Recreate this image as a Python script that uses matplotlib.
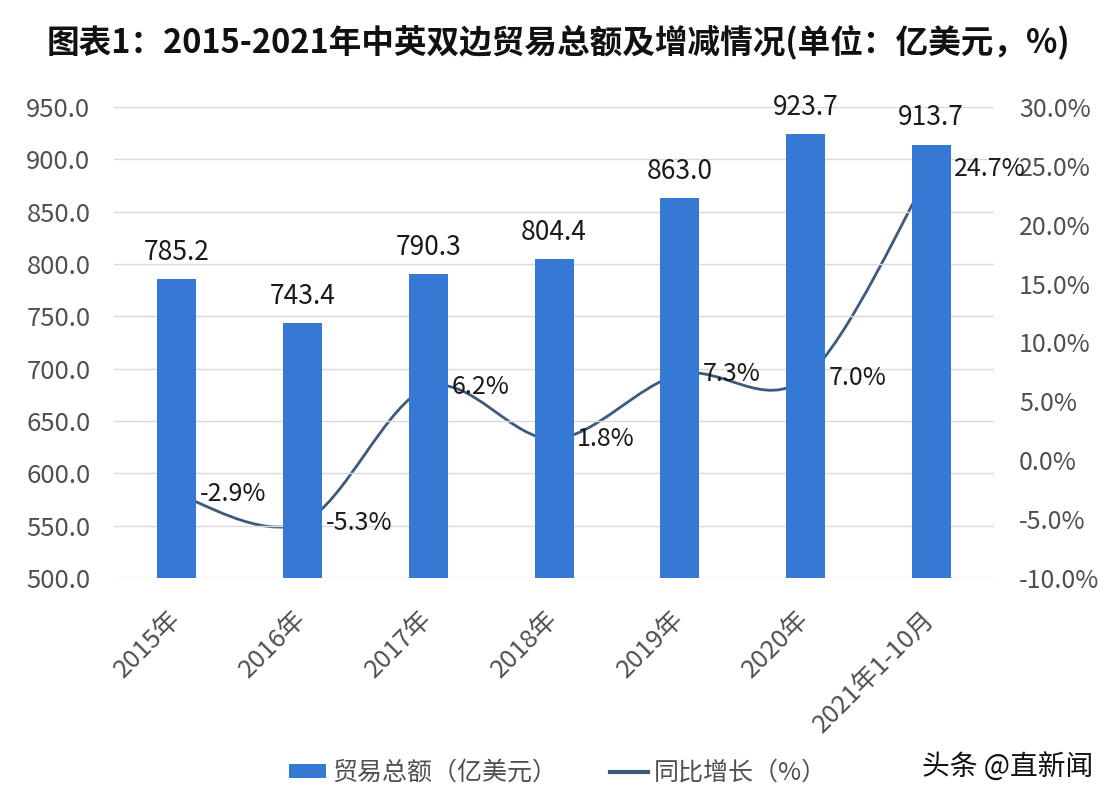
import matplotlib.pyplot as plt
from matplotlib.path import Path
from matplotlib.patches import PathPatch, Patch
from matplotlib.lines import Line2D
import numpy as np

plt.rcParams['font.family'] = ['Noto Sans CJK SC', 'DejaVu Sans']

categories = ["2015年", "2016年", "2017年", "2018年", "2019年", "2020年", "2021年1-10月"]
trade_total = [785.2, 743.4, 790.3, 804.4, 863.0, 923.7, 913.7]
yoy_growth = [-2.9, -5.3, 6.2, 1.8, 7.3, 7.0, 24.7]
left_ticks = [500, 550, 600, 650, 700, 750, 800, 850, 900, 950]
right_ticks = [-10, -5, 0, 5, 10, 15, 20, 25, 30]

bar_color = "#3679d4"
line_color = "#3b5a7c"
tick_color = "#505050"


def smooth_path(xs, ys):
    # cubic bezier through the points, like a spreadsheet "smoothed line"
    pts = np.column_stack([xs, ys]).astype(float)
    n = len(pts)
    verts = [pts[0]]
    codes = [Path.MOVETO]
    for i in range(n - 1):
        p0 = pts[i - 1] if i > 0 else pts[i]
        p1 = pts[i]
        p2 = pts[i + 1]
        p3 = pts[i + 2] if i + 2 < n else pts[i + 1]
        c1 = p1 + (p2 - p0) / 6
        c2 = p2 - (p3 - p1) / 6
        verts += [c1, c2, p2]
        codes += [Path.CURVE4] * 3
    return Path(verts, codes)


fig = plt.figure(figsize=(11.16, 8), dpi=100)
ax = fig.add_axes([0.1022, 0.2775, 0.7885, 0.5888])
ax2 = ax.twinx()

x = np.arange(len(categories))
ax.bar(x, trade_total, width=0.31, color=bar_color, zorder=3)
for xi, v in zip(x, trade_total):
    ax.annotate(f"{v:.1f}", xy=(xi, v), xytext=(0, 27), textcoords="offset pixels",
                ha="center", va="center", fontsize=19, color="#1a1a1a")

ax.set_xlim(-0.5, 6.5)
ax.set_ylim(500, 950)
ax.set_yticks(left_ticks)
ax.set_yticklabels([f"{t:.1f}" for t in left_ticks])
ax.grid(axis="y", color="#d9d9d9", linewidth=1, zorder=0)
ax.set_axisbelow(True)
ax.set_xticks(x)
ax.set_xticklabels(categories, rotation=45, ha="right", va="center",
                   rotation_mode="anchor")
ax.tick_params(axis="both", length=0, labelsize=18.5, colors=tick_color)
ax.tick_params(axis="x", pad=27)
ax.tick_params(axis="y", pad=17)

ax2.set_ylim(-10, 30)
ax2.set_yticks(right_ticks)
ax2.set_yticklabels([f"{t:.1f}%" for t in right_ticks])
ax2.tick_params(axis="y", length=0, labelsize=18, colors=tick_color, pad=18)

# line sits behind the bars
ax.set_zorder(ax2.get_zorder() + 1)
ax.patch.set_visible(False)
ax2.add_patch(PathPatch(smooth_path(x, yoy_growth), facecolor="none",
                        edgecolor=line_color, linewidth=2))
for xi, v in zip(x, yoy_growth):
    ax.annotate(f"{v:.1f}%", xy=(xi, v), xycoords=ax2.transData,
                xytext=(23, 0), textcoords="offset pixels",
                ha="left", va="center", fontsize=18, color="#1a1a1a", zorder=5)

for a in (ax, ax2):
    for s in a.spines.values():
        s.set_visible(False)

fig.text(0.5, 0.947, "图表1：2015-2021年中英双边贸易总额及增减情况(单位：亿美元，%)",
         ha="center", va="center", fontsize=23.5, fontweight="bold", color="#111111")

handles = [Patch(facecolor=bar_color, label="贸易总额（亿美元）"),
           Line2D([0], [0], color=line_color, linewidth=3, label="同比增长（%）")]
leg = fig.legend(handles=handles, loc="center", bbox_to_anchor=(0.5, 0.034), ncol=2,
                 frameon=False, fontsize=18, handlelength=1.5, handleheight=0.5,
                 handletextpad=0.25, columnspacing=2.1)
for t in leg.get_texts():
    t.set_color(tick_color)

fig.text(0.98, 0.04, "头条 @直新闻", ha="right", va="center", fontsize=20, color="#111111")

fig.savefig("out.png", dpi=100)
